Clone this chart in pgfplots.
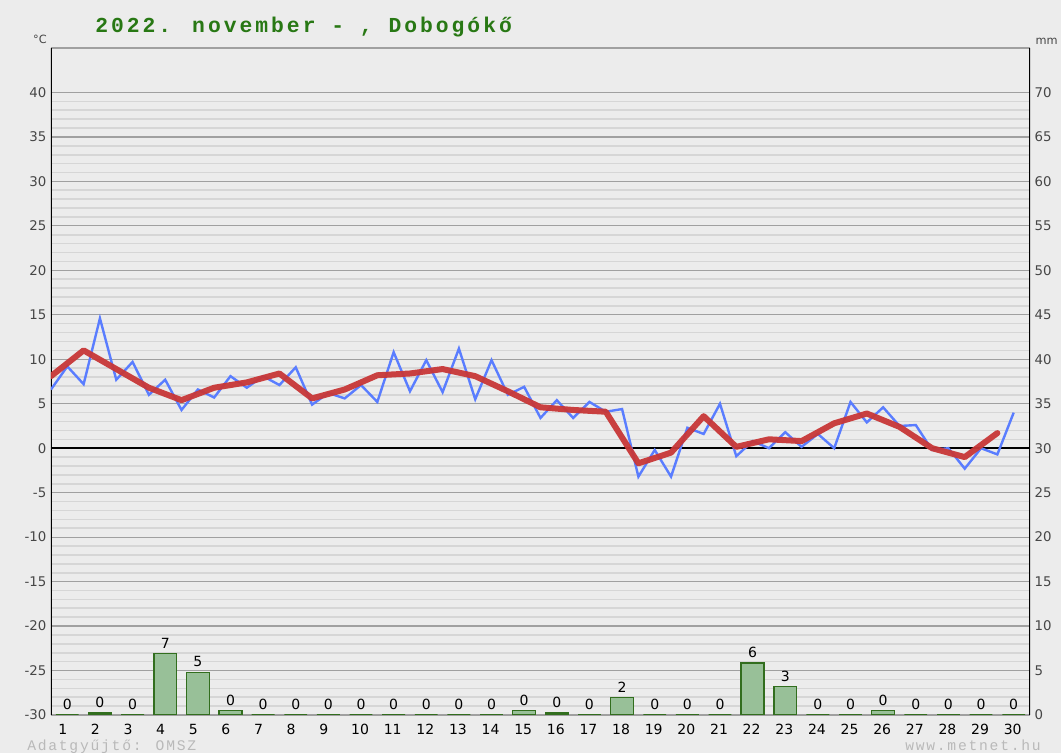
\documentclass[border=0pt]{standalone}
\usepackage{fontspec}
\setmainfont{DejaVu Sans}
\newfontfamily\titlefont[LetterSpace=14]{Liberation Mono}
\newfontfamily\smallmono[LetterSpace=12]{Liberation Mono}
\usepackage{pgfplots}
\pgfplotsset{compat=1.18}
\definecolor{bg}{RGB}{236,236,236}
\definecolor{gridmajor}{RGB}{160,160,160}
\definecolor{gridminor}{RGB}{214,214,214}
\definecolor{blueline}{RGB}{90,125,255}
\definecolor{redline}{RGB}{200,55,55}
\definecolor{barfill}{RGB}{152,192,152}
\definecolor{baredge}{RGB}{50,110,30}
\definecolor{titlegreen}{RGB}{40,120,20}
\definecolor{ticktext}{RGB}{70,70,70}
\definecolor{credit}{RGB}{185,185,185}

\pgfplotstableread{
x y
0 6.6
0.5 9.2
1 7.2
1.5 14.6
2 7.7
2.5 9.7
3 6.0
3.5 7.7
4 4.3
4.5 6.6
5 5.7
5.5 8.1
6 6.8
6.5 8.1
7 7.1
7.5 9.1
8 4.9
8.5 6.2
9 5.6
9.5 7.1
10 5.2
10.5 10.8
11 6.4
11.5 9.9
12 6.3
12.5 11.2
13 5.5
13.5 9.9
14 6.0
14.5 6.9
15 3.4
15.5 5.4
16 3.4
16.5 5.2
17 4.1
17.5 4.4
18 -3.2
18.5 -0.2
19 -3.2
19.5 2.3
20 1.6
20.5 5.0
21 -0.9
21.5 0.8
22 0.0
22.5 1.8
23 0.15
23.5 1.6
24 0.0
24.5 5.2
25 2.9
25.5 4.6
26 2.5
26.5 2.6
27 -0.2
27.5 0.0
28 -2.3
28.5 0.0
29 -0.7
29.5 4.0
}\bluedata

\pgfplotstableread{
x y
0 8.1
1 11.0
2 8.9
3 6.8
4 5.4
5 6.8
6 7.4
7 8.4
8 5.6
9 6.6
10 8.2
11 8.4
12 8.9
13 8.1
14 6.4
15 4.6
16 4.3
17 4.1
18 -1.7
19 -0.5
20 3.6
21 0.15
22 1.0
23 0.8
24 2.8
25 3.9
26 2.4
27 0.0
28 -1.0
29 1.7
}\reddata

\pgfplotstableread{
x y lab
0.5 0 0
1.5 0.2 0
2.5 0 0
3.5 6.9 7
4.5 4.8 5
5.5 0.5 0
6.5 0 0
7.5 0 0
8.5 0 0
9.5 0 0
10.5 0 0
11.5 0 0
12.5 0 0
13.5 0 0
14.5 0.5 0
15.5 0.2 0
16.5 0 0
17.5 1.96 2
18.5 0 0
19.5 0 0
20.5 0 0
21.5 5.85 6
22.5 3.2 3
23.5 0 0
24.5 0 0
25.5 0.5 0
26.5 0 0
27.5 0 0
28.5 0 0
29.5 0 0
}\raindata

\begin{document}
\begin{tikzpicture}
\path[use as bounding box, fill=bg] (0,0) rectangle (795.75pt,564.75pt);

\begin{axis}[
  at={(38.25pt,28.5pt)}, anchor=south west,
  scale only axis, width=734.25pt, height=500.25pt,
  xmin=0, xmax=30, ymin=-30, ymax=45,
  axis line style={draw=none},
  ytick={-30,-25,...,40},
  minor y tick num=4,
  ymajorgrids, yminorgrids,
  major grid style={draw=gridmajor, line width=0.9pt},
  minor grid style={draw=gridminor, line width=1.2pt},
  major tick length=0pt, minor tick length=0pt,
  xtick={0.36,1.36,2.36,3.36,4.36,5.36,6.36,7.36,8.36,9.47,10.47,11.47,12.47,13.47,14.47,15.47,16.47,17.47,18.47,19.47,20.47,21.47,22.47,23.47,24.47,25.47,26.47,27.47,28.47,29.47},
  xticklabels={1,2,3,4,5,6,7,8,9,10,11,12,13,14,15,16,17,18,19,20,21,22,23,24,25,26,27,28,29,30},
  xticklabel style={font=\fontsize{10.5}{12}\selectfont, text=black, anchor=center, yshift=-10.5pt},
  yticklabel style={font=\fontsize{10}{12}\selectfont, text=ticktext},
  /pgf/number format/assume math mode=true,
]
\draw[gridmajor, line width=0.9pt] (rel axis cs:0,1) -- (rel axis cs:1,1);
\draw[black, line width=1.1pt] (axis cs:0,0) -- (axis cs:30,0);
\draw[black, line width=2.2pt] (rel axis cs:0,0) -- (rel axis cs:0,1);
\draw[black, line width=2.2pt] (rel axis cs:1,0) -- (rel axis cs:1,1);
\addplot[blueline, line width=1.8pt, line join=miter, mark=none] table[x=x,y=y] {\bluedata};
\addplot[redline, line width=4.5pt, line join=round, line cap=round, opacity=0.95, mark=none] table[x=x,y=y] {\reddata};
\end{axis}

\begin{axis}[
  at={(38.25pt,28.5pt)}, anchor=south west,
  scale only axis, width=734.25pt, height=500.25pt,
  xmin=0, xmax=30, ymin=0, ymax=75,
  axis x line=none, axis y line*=right,
  axis line style={draw=none},
  ytick={0,5,...,70},
  major tick length=0pt,
  yticklabel style={font=\fontsize{10}{12}\selectfont, text=ticktext},
  /pgf/number format/assume math mode=true,
  ybar, bar width=0.7,
  nodes near coords, point meta=explicit symbolic,
  every node near coord/.append style={font=\fontsize{10.5}{12}\selectfont, text=black},
]
\addplot[draw=baredge, fill=barfill, line width=1.1pt] table[x=x,y=y,meta=lab] {\raindata};
\end{axis}

\node[anchor=base west, text=titlegreen, font=\titlefont\bfseries\fontsize{16}{18}\selectfont, inner sep=0pt] at (71.25pt,540pt) {2022. november - , Dobogókő};
\node[text=ticktext, font=\fontsize{8.5}{10}\selectfont, inner sep=0pt] at (30pt,535pt) {°C};
\node[text=ticktext, font=\fontsize{8.5}{10}\selectfont, inner sep=0pt] at (785pt,533.5pt) {mm};
\node[anchor=base west, text=credit, font=\smallmono\fontsize{11}{13}\selectfont, inner sep=0pt] at (20.25pt,1.5pt) {Adatgyűjtő: OMSZ};
\node[anchor=base west, text=credit, font=\smallmono\fontsize{11}{13}\selectfont, inner sep=0pt] at (678.75pt,1.5pt) {www.metnet.hu};
\end{tikzpicture}
\end{document}
